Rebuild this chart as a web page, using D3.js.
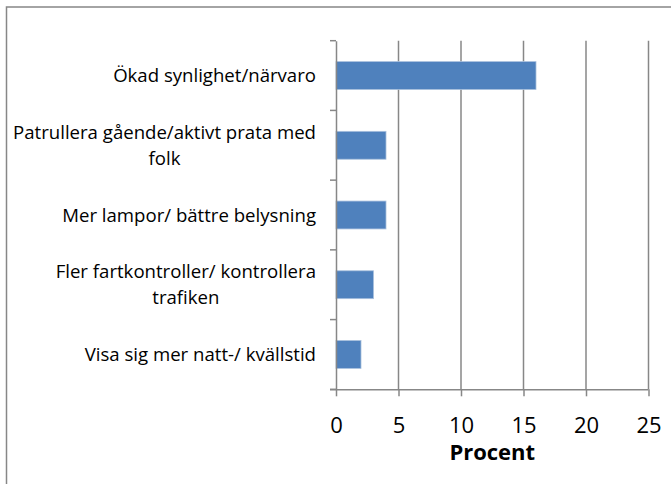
<!DOCTYPE html>
<html><head><meta charset="utf-8">
<script src="https://cdn.jsdelivr.net/npm/d3@7"></script>
<style>body{margin:0;background:#fff}svg{display:block}text{font-family:"Open Sans",sans-serif}</style>
</head><body><svg id="c" width="671" height="484"></svg>
<script>
const categories = ["Ökad synlighet/närvaro","Patrullera gående/aktivt prata med folk","Mer lampor/ bättre belysning","Fler fartkontroller/ kontrollera trafiken","Visa sig mer natt-/ kvällstid"];
const values = [16,4,4,3,2];
const xTicks = [0,5,10,15,20,25];
const xTitle = "Procent";

const svg = d3.select("#c");
svg.append("rect").attr("x",6.5).attr("y",7).attr("width",700).attr("height",500)
  .attr("fill","#fff").attr("stroke","#878787").attr("stroke-width",1.5);

const x = d3.scaleLinear().domain([0,25]).range([336,648.5]);
const y = d3.scaleBand().domain(categories).range([40.7,389.3]);

// gridlines
svg.append("g").selectAll("line").data(xTicks.slice(1)).join("line")
  .attr("x1",d=>x(d)).attr("x2",d=>x(d)).attr("y1",40.7).attr("y2",389.3)
  .attr("stroke","#878787").attr("stroke-width",1.5);

// bars
const bh = y.bandwidth()*0.4;
svg.append("g").selectAll("rect").data(values).join("rect")
  .attr("x",x(0)).attr("y",(d,i)=>y(categories[i])+y.bandwidth()/2-bh/2)
  .attr("width",d=>x(d)-x(0)).attr("height",bh)
  .attr("fill","#4F81BD").attr("stroke","#a9c0dd").attr("stroke-width",0.8);

// y axis
const ya = svg.append("g").attr("transform",`translate(${x(0)},0)`)
  .call(d3.axisLeft(y).tickSize(0).tickFormat(""));
ya.select(".domain").attr("stroke","#878787").attr("stroke-width",1.5);
const ybounds = [40.7, ...categories.map(c=>y(c)+y.bandwidth())];
svg.append("g").selectAll("line").data(ybounds).join("line")
  .attr("x1",x(0)-6).attr("x2",x(0)).attr("y1",d=>d).attr("y2",d=>d)
  .attr("stroke","#878787").attr("stroke-width",1.5);

// x axis
const xa = svg.append("g").attr("transform","translate(0,389.3)")
  .call(d3.axisBottom(x).tickValues(xTicks).tickSize(7).tickPadding(21).tickSizeOuter(0));
xa.select(".domain").attr("stroke","#878787").attr("stroke-width",1.5).attr("d",`M${x(0)-6},0.5H${x(25)}`);
xa.selectAll(".tick line").attr("stroke","#878787").attr("stroke-width",1.5);
xa.selectAll(".tick text").attr("font-size",22).attr("fill","#000").attr("font-family","Open Sans");

svg.append("text").attr("x",(x(0)+x(25))/2).attr("y",460).attr("text-anchor","middle")
  .attr("font-size",22).attr("font-weight","bold").text(xTitle);

// category labels with wrapping
const fs = 18.6, maxW = 310, right = 316, lh = 26;
const lab = svg.append("g").attr("font-size",fs).attr("fill","#000");
categories.forEach(c=>{
  const words = c.split(" ");
  const lines = []; let cur = "";
  const t = lab.append("text");
  words.forEach(w=>{
    const test = cur ? cur+" "+w : w;
    t.text(test);
    if (t.node().getComputedTextLength() > maxW && cur) { lines.push(cur); cur = w; } else cur = test;
  });
  lines.push(cur);
  t.text("");
  const widths = lines.map(l=>{t.text(l); return t.node().getComputedTextLength();});
  t.text("");
  const mw = d3.max(widths);
  const cx = right - mw/2;
  const cy = y(c)+y.bandwidth()/2;
  lines.forEach((l,i)=>{
    t.append("tspan").attr("x",cx).attr("text-anchor","middle")
      .attr("y",cy + (i-(lines.length-1)/2)*lh).attr("dy","0.35em").text(l);
  });
});
</script></body></html>
